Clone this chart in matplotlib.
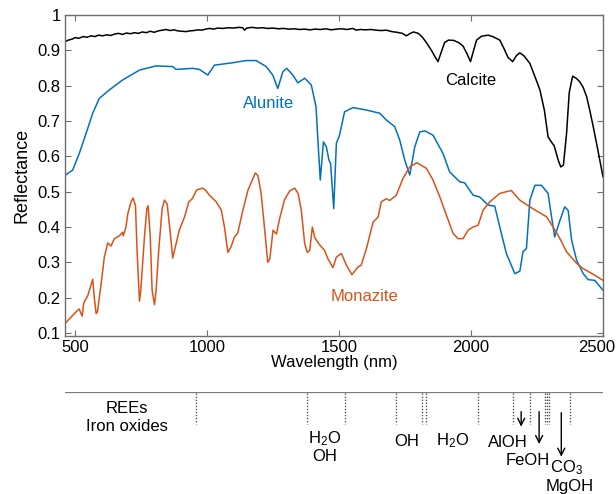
import numpy as np
import matplotlib.pyplot as plt
from matplotlib.transforms import ScaledTranslation

plt.rcParams['font.family'] = ['Liberation Sans', 'DejaVu Sans']
plt.rcParams['mathtext.fontset'] = 'custom'
plt.rcParams['mathtext.rm'] = 'Liberation Sans'
plt.rcParams['mathtext.default'] = 'regular'

# spectra (wavelength nm, reflectance)
calcite_wl = [460, 475, 490, 500, 515, 530, 545, 560, 575, 590, 605, 620, 635, 650, 665, 680, 695, 710, 725,
              740, 755, 770, 785, 800, 815, 830, 845, 860, 875, 890, 905, 920, 935, 950, 965, 980, 995, 1010,
              1025, 1040, 1060, 1080, 1100, 1120, 1135, 1142, 1150, 1170, 1190, 1210, 1230, 1250, 1270, 1290,
              1310, 1330, 1350, 1370, 1390, 1410, 1430, 1450, 1470, 1490, 1510, 1530, 1552, 1565, 1580, 1600,
              1620, 1640, 1660, 1680, 1700, 1720, 1740, 1755, 1770, 1782, 1800, 1815, 1831, 1850, 1865, 1875,
              1885, 1900, 1915, 1935, 1955, 1970, 1985, 1998, 2010, 2021, 2040, 2065, 2085, 2109, 2125, 2140,
              2158, 2172, 2185, 2200, 2223, 2240, 2261, 2278, 2292, 2305, 2315, 2330, 2340, 2350, 2362, 2372,
              2385, 2400, 2412, 2425, 2438, 2450, 2463, 2480, 2500]
calcite_r = [0.924, 0.929, 0.932, 0.936, 0.934, 0.939, 0.937, 0.941, 0.939, 0.943, 0.941, 0.944, 0.942, 0.946,
             0.948, 0.945, 0.949, 0.947, 0.950, 0.948, 0.952, 0.950, 0.954, 0.951, 0.955, 0.957, 0.959, 0.956,
             0.958, 0.955, 0.954, 0.953, 0.955, 0.956, 0.958, 0.957, 0.960, 0.962, 0.960, 0.963, 0.962, 0.964,
             0.963, 0.965, 0.964, 0.957, 0.963, 0.965, 0.963, 0.964, 0.962, 0.963, 0.961, 0.962, 0.960, 0.961,
             0.959, 0.960, 0.958, 0.960, 0.959, 0.961, 0.958, 0.960, 0.961, 0.959, 0.962, 0.957, 0.959, 0.958,
             0.959, 0.957, 0.956, 0.957, 0.953, 0.951, 0.948, 0.941, 0.948, 0.952, 0.948, 0.938, 0.922, 0.900,
             0.880, 0.868, 0.890, 0.922, 0.929, 0.928, 0.921, 0.912, 0.890, 0.868, 0.900, 0.929, 0.940, 0.943,
             0.938, 0.929, 0.905, 0.880, 0.868, 0.885, 0.893, 0.885, 0.863, 0.830, 0.788, 0.730, 0.655, 0.640,
             0.630, 0.590, 0.570, 0.575, 0.665, 0.780, 0.827, 0.820, 0.811, 0.795, 0.769, 0.730, 0.684, 0.620,
             0.542]

alunite_wl = [460, 491, 516, 542, 567, 592, 630, 680, 744, 807, 870, 883, 946, 971, 1003, 1028, 1098, 1148,
              1186, 1224, 1249, 1268, 1287, 1302, 1325, 1344, 1370, 1395, 1413, 1420, 1429, 1441, 1452, 1462,
              1468, 1480, 1490, 1502, 1521, 1553, 1604, 1654, 1679, 1711, 1730, 1749, 1768, 1787, 1806, 1825,
              1856, 1894, 1919, 1957, 1976, 2008, 2033, 2065, 2090, 2109, 2134, 2166, 2185, 2197, 2210, 2223,
              2242, 2267, 2292, 2305, 2317, 2337, 2355, 2368, 2381, 2400, 2425, 2444, 2469, 2500]
alunite_r = [0.545, 0.561, 0.608, 0.665, 0.722, 0.764, 0.788, 0.816, 0.844, 0.856, 0.854, 0.846, 0.849, 0.846,
             0.830, 0.858, 0.865, 0.871, 0.871, 0.854, 0.830, 0.792, 0.839, 0.849, 0.830, 0.808, 0.821, 0.802,
             0.740, 0.646, 0.533, 0.641, 0.627, 0.589, 0.580, 0.452, 0.637, 0.660, 0.726, 0.738, 0.731, 0.722,
             0.703, 0.684, 0.646, 0.589, 0.547, 0.627, 0.669, 0.672, 0.660, 0.608, 0.556, 0.528, 0.525, 0.490,
             0.485, 0.462, 0.459, 0.400, 0.325, 0.268, 0.275, 0.330, 0.339, 0.476, 0.518, 0.518, 0.495, 0.429,
             0.372, 0.419, 0.457, 0.447, 0.363, 0.306, 0.268, 0.251, 0.249, 0.221]

monazite_wl = [463, 485, 504, 516, 520, 527, 533, 548, 567, 573, 580, 585, 599, 611, 624, 636, 649, 668, 680,
               683, 693, 700, 712, 720, 729, 735, 744, 749, 763, 772, 777, 785, 792, 801, 807, 817, 830, 839,
               849, 861, 870, 883, 895, 915, 931, 944, 961, 984, 997, 1009, 1035, 1054, 1066, 1079, 1091, 1104,
               1116, 1136, 1155, 1183, 1193, 1205, 1218, 1230, 1238, 1250, 1263, 1275, 1294, 1313, 1332, 1345,
               1357, 1370, 1380, 1389, 1399, 1408, 1426, 1445, 1458, 1477, 1490, 1509, 1528, 1549, 1572, 1584,
               1604, 1629, 1648, 1660, 1679, 1692, 1717, 1742, 1768, 1795, 1831, 1856, 1882, 1907, 1932, 1951,
               1970, 1989, 2008, 2027, 2046, 2071, 2109, 2134, 2153, 2185, 2223, 2254, 2286, 2311, 2337, 2362,
               2400, 2425, 2463, 2500]
monazite_r = [0.127, 0.145, 0.160, 0.168, 0.160, 0.148, 0.185, 0.205, 0.252, 0.200, 0.155, 0.160, 0.240, 0.315,
              0.355, 0.346, 0.367, 0.375, 0.385, 0.375, 0.400, 0.438, 0.471, 0.482, 0.460, 0.334, 0.190, 0.220,
              0.372, 0.452, 0.460, 0.372, 0.221, 0.180, 0.220, 0.334, 0.452, 0.476, 0.465, 0.382, 0.312, 0.353,
              0.391, 0.429, 0.471, 0.480, 0.505, 0.510, 0.502, 0.490, 0.471, 0.448, 0.400, 0.328, 0.344, 0.372,
              0.382, 0.448, 0.504, 0.553, 0.545, 0.495, 0.396, 0.300, 0.310, 0.391, 0.380, 0.424, 0.478, 0.502,
              0.510, 0.495, 0.448, 0.353, 0.328, 0.334, 0.400, 0.370, 0.350, 0.334, 0.310, 0.285, 0.315, 0.325,
              0.292, 0.265, 0.287, 0.292, 0.339, 0.414, 0.428, 0.471, 0.480, 0.475, 0.490, 0.537, 0.570, 0.582,
              0.566, 0.533, 0.485, 0.433, 0.382, 0.367, 0.367, 0.391, 0.400, 0.405, 0.448, 0.471, 0.495, 0.500,
              0.503, 0.476, 0.457, 0.443, 0.429, 0.400, 0.367, 0.330, 0.297, 0.282, 0.266, 0.249]

# absorption feature markers (nm)
feature_lines = [960, 1378, 1521, 1715, 1813, 1831, 2027, 2159, 2224, 2282, 2288, 2296, 2374]

fs = 12
blue = '#0072BD'
orange = '#D95319'
spine_col = '#6e6e6e'

fig = plt.figure(figsize=(6.16, 4.94), dpi=100)
W, H = 616, 494
ax = fig.add_axes([65 / W, 1 - 336 / H, 538 / W, 321 / H])

ax.plot(calcite_wl, calcite_r, color='black', lw=1.1)
ax.plot(alunite_wl, alunite_r, color=blue, lw=1.1)
ax.plot(monazite_wl, monazite_r, color=orange, lw=1.1)

ax.text(2000, 0.816, 'Calcite', color='black', fontsize=fs, ha='center', va='center')
ax.text(1233, 0.75, 'Alunite', color=blue, fontsize=fs, ha='center', va='center')
ax.text(1597, 0.202, 'Monazite', color=orange, fontsize=fs, ha='center', va='center')

ax.set_xlim(462, 2500)
ax.set_ylim(0.0915, 1.0)
ax.set_xticks([500, 1000, 1500, 2000, 2500])
ax.set_yticks(np.arange(1, 11) / 10)
ax.set_yticklabels(['0.1', '0.2', '0.3', '0.4', '0.5', '0.6', '0.7', '0.8', '0.9', '1'])
ax.tick_params(direction='in', top=True, right=True, length=4, width=0.8, color=spine_col,
               labelsize=fs, pad=3)
for s in ax.spines.values():
    s.set_color(spine_col)
    s.set_linewidth(1)
ax.set_xlabel('Wavelength (nm)', fontsize=fs, labelpad=0)
ax.set_ylabel('Reflectance', fontsize=fs + 1, labelpad=5)

# last x tick label sits a bit left so it stays inside the figure
last = ax.get_xticklabels()[-1]
last.set_transform(last.get_transform() + ScaledTranslation(-6 / 100, 0, fig.dpi_scale_trans))

# lower panel with feature annotations
ax2 = fig.add_axes([65 / W, 0, 538 / W, 102 / H])
ax2.set_xlim(462, 2500)
ax2.set_ylim(102, 0)
ax2.axis('off')
ax2.axhline(0, color='#7a7a7a', lw=1.6)
for wl in feature_lines:
    ax2.plot([wl, wl], [1, 32], color='#555555', lw=1, ls=(0, (1, 1.2)))

ax2.text(695, 16, 'REEs', fontsize=fs, ha='center', va='center')
ax2.text(695, 34, 'Iron oxides', fontsize=fs, ha='center', va='center')
ax2.text(1447, 47, 'H$_2$O', fontsize=fs, ha='center', va='center')
ax2.text(1447, 64, 'OH', fontsize=fs, ha='center', va='center')
ax2.text(1755, 49, 'OH', fontsize=fs, ha='center', va='center')
ax2.text(1930, 49, 'H$_2$O', fontsize=fs, ha='center', va='center')
ax2.text(2139, 50, 'AlOH', fontsize=fs, ha='center', va='center')
ax2.text(2215, 68, 'FeOH', fontsize=fs, ha='center', va='center')
ax2.text(2363, 76, 'CO$_3$', fontsize=fs, ha='center', va='center')
ax2.text(2374, 94, 'MgOH', fontsize=fs, ha='center', va='center')

arrows = [(2190, 19.7, 34.7), (2258, 19.7, 52), (2342, 20.7, 64.7)]
for x, y0, y1 in arrows:
    ax2.annotate('', xy=(x, y1), xytext=(x, y0),
                 arrowprops=dict(arrowstyle='->,head_length=0.5,head_width=0.25', color='black', lw=1,
                                 shrinkA=0, shrinkB=0))

fig.savefig('out.png', dpi=100)
